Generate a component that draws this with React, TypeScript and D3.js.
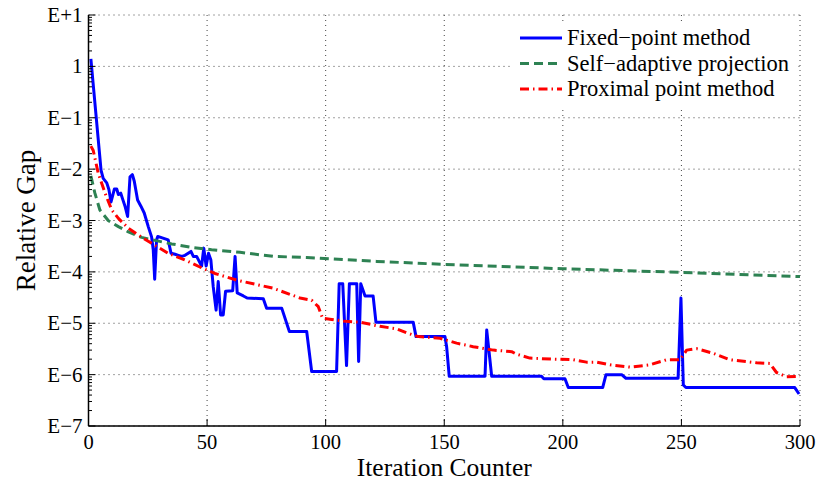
import React from "react";
import * as d3 from "d3";

// [iteration, relative gap]
const fixedPoint: [number, number][] = [
  [1, 1.4], [5.3, 9.5e-3], [6.2, 6.6e-3], [7.7, 5.4e-3], [8.6, 4.0e-3], [9.5, 2.3e-3],
  [10.9, 4.1e-3], [11.9, 4.1e-3], [12.6, 3.2e-3], [13.6, 3.4e-3], [14.3, 2.7e-3],
  [15.4, 1.9e-3], [16.5, 1.2e-3], [17.5, 7.1e-3], [18.5, 7.8e-3], [19.3, 5.8e-3],
  [20.7, 2.5e-3], [22.1, 1.9e-3], [23.5, 1.4e-3], [25.2, 7.6e-4], [26.6, 4.8e-4],
  [27.3, 2.7e-4], [27.9, 7.2e-5], [28.7, 4.2e-4], [29.2, 4.9e-4], [33.6, 4.2e-4],
  [34.8, 2.3e-4], [36.5, 2.2e-4], [37.9, 2.1e-4], [39.3, 2.0e-4], [40.7, 2.1e-4],
  [43.2, 2.5e-4], [44.2, 2.0e-4], [45.6, 2.0e-4], [47.0, 1.5e-4], [47.7, 1.3e-4],
  [48.6, 2.9e-4], [49.6, 1.3e-4], [50.6, 2.3e-4], [51.6, 1.7e-4], [52.6, 5.1e-5],
  [53.8, 1.8e-5], [54.7, 6.5e-5], [55.7, 1.45e-5], [56.8, 1.45e-5], [57.8, 4.2e-5],
  [60.8, 4.3e-5], [61.8, 2.0e-4], [62.7, 3.9e-5], [65.3, 3.4e-5], [66.9, 3.1e-5],
  [73.7, 3.0e-5], [75.1, 1.95e-5], [81.5, 1.95e-5], [84.7, 6.9e-6], [92, 6.9e-6],
  [94.1, 1.15e-6], [104.6, 1.15e-6], [105.7, 5.9e-5], [107.2, 5.9e-5], [108.8, 1.5e-6],
  [110, 5.9e-5], [113.1, 5.9e-5], [113.9, 1.8e-6], [114.8, 5.9e-5], [116.6, 3.4e-5],
  [120, 3.4e-5], [121.2, 1.05e-5], [136.9, 1.05e-5], [138.1, 5.5e-6], [150.3, 5.5e-6],
  [151, 3.5e-6], [152.1, 9.3e-7], [167.2, 9.3e-7], [167.9, 7.4e-6], [170, 9.3e-7],
  [191, 9.3e-7], [192, 8.3e-7], [200.9, 8.3e-7], [202.3, 5.6e-7], [216.8, 5.6e-7],
  [218.2, 1.0e-6], [224.8, 1.0e-6], [226.6, 8.5e-7], [248.6, 8.5e-7], [249.8, 3.1e-5],
  [250.8, 6.3e-7], [251.9, 5.6e-7], [297.8, 5.6e-7], [299.6, 4.2e-7],
];

const selfAdaptive: [number, number][] = [
  [1, 7.4e-3], [2.7, 3.4e-3], [4.8, 1.6e-3], [8.3, 1.0e-3], [12.6, 7.6e-4],
  [16.8, 6.0e-4], [22.4, 4.7e-4], [28, 4.1e-4], [35.1, 3.5e-4], [43.5, 3.0e-4],
  [51.9, 2.7e-4], [63.9, 2.4e-4], [77.9, 2.0e-4], [92, 1.9e-4], [121.5, 1.6e-4],
  [149.6, 1.4e-4], [200, 1.15e-4], [250, 9.8e-5], [300, 8.1e-5],
];

const proximal: [number, number][] = [
  [1, 2.8e-2], [2, 2.3e-2], [4.1, 8.3e-3], [7, 3.4e-3], [9.8, 1.6e-3], [12.6, 1.1e-3],
  [16.8, 7.1e-4], [21, 5.2e-4], [26.6, 3.6e-4], [33.6, 2.3e-4], [40.7, 1.7e-4],
  [47.7, 1.2e-4], [53.3, 9.3e-5], [62.5, 6.9e-5], [77.9, 4.8e-5], [89.2, 3.1e-5],
  [94.1, 2.8e-5], [96.9, 2.1e-5], [98.7, 1.25e-5], [101.8, 1.2e-5], [107.4, 1.1e-5],
  [114.5, 1.05e-5], [122.9, 8.7e-6], [129.9, 7.8e-6], [134.1, 6.5e-6], [139, 5.5e-6],
  [148.2, 5.1e-6], [155.2, 4.1e-6], [162.2, 3.5e-6], [170.7, 3.0e-6], [178.4, 2.8e-6],
  [180.5, 2.5e-6], [186.1, 2.1e-6], [196, 2.0e-6], [204.4, 1.95e-6], [210, 1.75e-6],
  [214.2, 1.75e-6], [219.9, 1.55e-6], [228.3, 1.4e-6], [236.7, 1.55e-6], [243.8, 1.95e-6],
  [249.4, 1.95e-6], [252.2, 3.0e-6], [256.4, 3.2e-6], [263.4, 2.6e-6], [270.4, 1.95e-6],
  [281.7, 1.7e-6], [287.3, 1.65e-6], [290.1, 1.1e-6], [294.3, 9.1e-7], [300, 9.3e-7],
];

const xTicks = [0, 50, 100, 150, 200, 250, 300];
const yTicks = [1e1, 1, 1e-1, 1e-2, 1e-3, 1e-4, 1e-5, 1e-6, 1e-7];
const yTickLabels = ["E+1", "1", "E\u22121", "E\u22122", "E\u22123", "E\u22124", "E\u22125", "E\u22126", "E\u22127"];

const series = [
  { name: "Fixed\u2212point method", data: fixedPoint, color: "#0000ff", dash: "none" },
  { name: "Self\u2212adaptive projection", data: selfAdaptive, color: "#2e8253", dash: "9,5" },
  { name: "Proximal point method", data: proximal, color: "#ff0000", dash: "9,4,1.5,4" },
];

const W = 819;
const H = 482;
const left = 88.5;
const right = 800;
const top = 15;
const bottom = 426;
const font = "'Liberation Serif', 'Times New Roman', serif";

export default function App() {
  const x = d3.scaleLinear().domain([0, 300]).range([left, right]);
  const y = d3.scaleLog().domain([1e-7, 10]).range([bottom, top]);
  const line = d3
    .line<[number, number]>()
    .x((d) => x(d[0]))
    .y((d) => y(d[1]));

  const minor: number[] = [];
  for (let e = -7; e < 1; e++) {
    for (let m = 2; m <= 9; m++) minor.push(m * Math.pow(10, e));
  }

  return (
    <svg
      width={W}
      height={H}
      style={{ position: "absolute", left: 0, top: 0, background: "#fff" }}
      fontFamily={font}
    >
      {/* grid */}
      {yTicks.map((t) => (
        <line key={"gy" + t} x1={left} x2={right} y1={y(t)} y2={y(t)}
          stroke="#444" strokeWidth={1} strokeDasharray="1,4" />
      ))}
      {xTicks.slice(1).map((t) => (
        <line key={"gx" + t} x1={x(t)} x2={x(t)} y1={top} y2={bottom}
          stroke="#444" strokeWidth={1} strokeDasharray="1,4" />
      ))}

      {/* legend box hides grid */}
      <rect x={510} y={22} width={287} height={85} fill="#fff" />

      {series.map((s) => (
        <path key={s.name} d={line(s.data) ?? ""} fill="none" stroke={s.color}
          strokeWidth={3} strokeDasharray={s.dash} strokeLinejoin="round" />
      ))}

      {/* axes */}
      <line x1={left} x2={left} y1={top} y2={bottom} stroke="#000" strokeWidth={1.5} />
      <line x1={left} x2={right} y1={bottom} y2={bottom} stroke="#000" strokeWidth={1.5} />
      {yTicks.map((t, i) => (
        <g key={"ty" + t}>
          <line x1={left} x2={left + 7} y1={y(t)} y2={y(t)} stroke="#000" strokeWidth={1} />
          <text x={left - 6} y={y(t) + 7} textAnchor="end" fontSize={21}>
            {yTickLabels[i]}
          </text>
        </g>
      ))}
      {minor.map((t) => (
        <line key={"my" + t} x1={left} x2={left + 3.5} y1={y(t)} y2={y(t)}
          stroke="#000" strokeWidth={1} />
      ))}
      {xTicks.map((t) => (
        <g key={"tx" + t}>
          <line x1={x(t)} x2={x(t)} y1={bottom} y2={bottom - 7} stroke="#000" strokeWidth={1} />
          <text x={x(t)} y={bottom + 22.5} textAnchor="middle" fontSize={20.5}>
            {t}
          </text>
        </g>
      ))}

      <text x={(left + right) / 2} y={476} textAnchor="middle" fontSize={25.5}>
        Iteration Counter
      </text>
      <text transform={`translate(35, ${(top + bottom) / 2}) rotate(-90)`} textAnchor="middle" fontSize={27}>
        Relative Gap
      </text>

      {/* legend */}
      {series.map((s, i) => (
        <g key={"lg" + s.name} transform={`translate(0, ${38 + i * 25.5})`}>
          <line x1={520} x2={562} y1={0} y2={0} stroke={s.color} strokeWidth={3}
            strokeDasharray={s.dash} />
          <text x={567} y={7} fontSize={22.5}>{s.name}</text>
        </g>
      ))}
    </svg>
  );
}
